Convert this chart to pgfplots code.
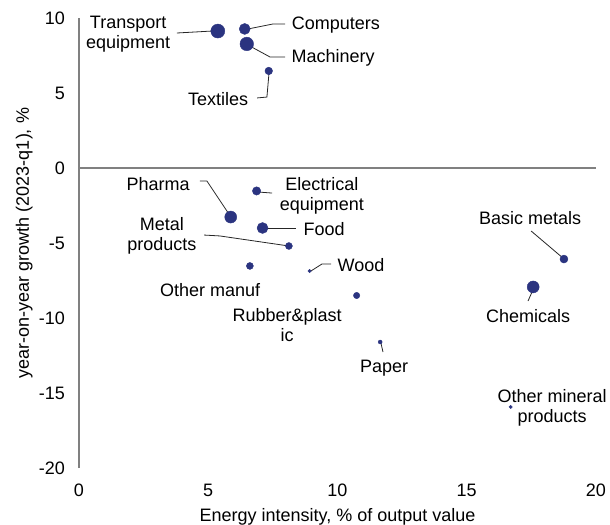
\documentclass[border=0pt]{standalone}
\usepackage{pgfplots}
\pgfplotsset{compat=1.18}
\usepackage{pgfplotstable}
\usepackage{fontspec}
\setmainfont{Liberation Sans}
\definecolor{navy}{RGB}{43,52,128}
\definecolor{axgray}{RGB}{128,128,128}
\pgfplotstableread{
x y r
5.37 9.13 7.0
6.41 9.27 5.5
6.49 8.27 6.8
7.34 6.47 3.8
6.87 -1.53 4.2
5.87 -3.27 6.0
7.10 -4.00 5.5
8.12 -5.20 3.5
6.61 -6.53 3.5
8.92 -6.87 1.7
10.74 -8.50 3.2
11.65 -11.60 2.0
18.76 -6.07 4.0
17.57 -7.93 6.0
16.70 -15.93 1.7
}\bubbles
\begin{document}
\fontsize{18bp}{21bp}\selectfont
\begin{tikzpicture}
\useasboundingbox (-79bp,-57bp) rectangle (531bp,468bp);
\begin{axis}[
  at={(0,0)}, anchor=south west,
  scale only axis, width=517bp, height=450bp,
  xmin=0, xmax=20, ymin=-20, ymax=10,
  xtick={0,5,10,15,20}, ytick={-20,-15,-10,-5,0,5,10},
  axis line style={draw=none},
  major tick length=0pt,
  tick label style={font=\fontsize{18bp}{21bp}\selectfont},
  /pgf/number format/assume math mode=true,
  xticklabel style={yshift=-10bp},
  yticklabel style={xshift=-8bp},
  xlabel={Energy intensity, \% of output value},
  ylabel={year-on-year growth (2023-q1), \%},
  label style={font=\fontsize{18bp}{21bp}\selectfont},
  xlabel style={yshift=1bp},
  ylabel style={yshift=-6bp},
  clip=false,
]
\draw[axgray, line width=1.2bp] (axis cs:0,-20) -- (axis cs:0,10);
\draw[axgray, line width=1.2bp] (axis cs:0,0) -- (axis cs:20,0);
% leader lines
\begin{scope}[line width=0.8bp, black!85]
\draw (axis cs:3.79,9.0) -- (axis cs:5.14,9.13);
\draw (axis cs:6.54,9.27) -- (axis cs:7.50,9.6) -- (axis cs:7.97,9.6);
\draw (axis cs:6.61,8.13) -- (axis cs:7.39,7.4) -- (axis cs:7.97,7.4);
\draw (axis cs:7.35,6.33) -- (axis cs:7.27,4.73) -- (axis cs:6.89,4.67);
\draw (axis cs:4.68,-0.87) -- (axis cs:4.95,-0.87) -- (axis cs:5.8,-3.07);
\draw (axis cs:6.92,-1.6) -- (axis cs:7.47,-1.67);
\draw (axis cs:7.23,-4.0) -- (axis cs:8.39,-4.0);
\draw (axis cs:4.84,-4.47) -- (axis cs:5.45,-4.53) -- (axis cs:8.12,-5.2);
\draw (axis cs:8.97,-6.87) -- (axis cs:9.4,-6.4) -- (axis cs:9.75,-6.4);
\draw (axis cs:11.68,-11.67) -- (axis cs:11.76,-12.27);
\draw (axis cs:17.49,-4.2) -- (axis cs:18.72,-6.0);
\draw (axis cs:17.37,-8.87) -- (axis cs:17.56,-8.13);
\end{scope}
\addplot[scatter, only marks, mark=*,
  scatter/use mapped color={draw=navy, fill=navy},
  visualization depends on={\thisrow{r} \as \rr},
  scatter/@pre marker code/.append style={/tikz/mark size=\rr bp}]
  table[x=x, y=y] {\bubbles};
% labels
\begin{scope}[every node/.style={align=center, inner sep=0pt, font=\fontsize{18bp}{20bp}\selectfont}]
\node at (axis cs:1.90,8.93) {Transport\\equipment};
\node at (axis cs:9.94,9.53) {Computers};
\node at (axis cs:9.83,7.33) {Machinery};
\node at (axis cs:5.38,4.6) {Textiles};
\node at (axis cs:3.06,-1.07) {Pharma};
\node at (axis cs:9.4,-1.87) {Electrical\\equipment};
\node at (axis cs:9.48,-4.07) {Food};
\node at (axis cs:3.21,-4.53) {Metal\\products};
\node at (axis cs:5.07,-8.13) {Other manuf};
\node at (axis cs:10.91,-6.47) {Wood};
\node at (axis cs:8.05,-10.47) {Rubber\&plast\\ic};
\node at (axis cs:11.8,-13.33) {Paper};
\node at (axis cs:17.45,-3.33) {Basic metals};
\node at (axis cs:17.37,-9.87) {Chemicals};
\node at (axis cs:18.3,-16.0) {Other mineral\\products};
\end{scope}
\end{axis}
\end{tikzpicture}
\end{document}
